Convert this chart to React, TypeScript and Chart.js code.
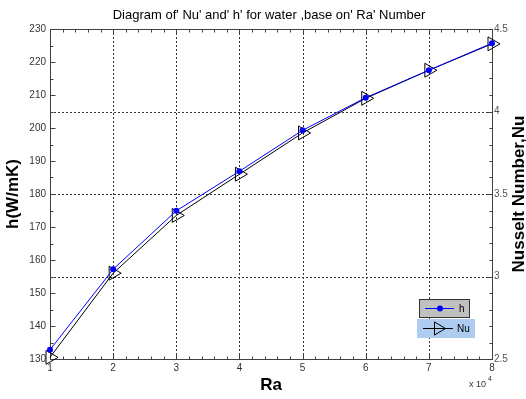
import React, { useEffect, useRef } from "react";
import { Chart, registerables } from "chart.js";

Chart.register(...registerables);

// Ra values (x 10^4)
const raValues = [1, 2, 3, 4, 5, 6, 7, 8];
// heat transfer coefficient h (W/mK), left axis
const hValues = [132.8, 157.2, 174.9, 186.9, 199.3, 209.2, 217.5, 225.7];
// Nusselt number, right axis
const nuValues = [2.51, 3.02, 3.37, 3.62, 3.87, 4.08, 4.25, 4.41];

const xTickValues = [1, 2, 3, 4, 5, 6, 7, 8];
const hTickValues = [130, 140, 150, 160, 170, 180, 190, 200, 210, 220, 230];
const nuTickValues = [2.5, 3, 3.5, 4, 4.5];
const nuGridValues = [3, 3.5, 4];

const chartTitle = "Diagram of' Nu' and' h' for water ,base on' Ra' Number";
const xTitle = "Ra";
const yTitle = "h(W/mK)";
const y1Title = "Nusselt Number,Nu";
const hLabel = "h";
const nuLabel = "Nu";

const FONT = "Arial, 'Liberation Sans', sans-serif";

const decorPlugin = {
  id: "decor",
  beforeDatasetsDraw(chart: any) {
    const { ctx, chartArea: a, scales } = chart;
    const x = scales.x;
    const y = scales.y;
    const y1 = scales.y1;
    ctx.save();
    // dotted grid
    ctx.strokeStyle = "#333";
    ctx.lineWidth = 1;
    ctx.setLineDash([2, 2]);
    for (const v of xTickValues) {
      if (v === x.min || v === x.max) continue;
      const px = Math.round(x.getPixelForValue(v)) + 0.5;
      ctx.beginPath();
      ctx.moveTo(px, a.top);
      ctx.lineTo(px, a.bottom);
      ctx.stroke();
    }
    for (const v of nuGridValues) {
      const py = Math.round(y1.getPixelForValue(v)) + 0.5;
      ctx.beginPath();
      ctx.moveTo(a.left, py);
      ctx.lineTo(a.right, py);
      ctx.stroke();
    }
    ctx.setLineDash([]);
    // frame
    ctx.strokeStyle = "#404040";
    const L = Math.round(a.left) + 0.5;
    const R = Math.round(a.right) + 0.5;
    const T = Math.round(a.top) + 0.5;
    const B = Math.round(a.bottom) + 0.5;
    ctx.strokeRect(L, T, R - L, B - T);
    // ticks
    ctx.beginPath();
    for (let i = 0; i <= 35; i++) {
      const v = x.min + i * 0.2;
      const px = Math.round(x.getPixelForValue(v)) + 0.5;
      const len = i % 5 === 0 ? 5 : 3;
      ctx.moveTo(px, B);
      ctx.lineTo(px, B - len);
      ctx.moveTo(px, T);
      ctx.lineTo(px, T + len);
    }
    for (let i = 0; i <= 20; i++) {
      const v = y.min + i * 5;
      const py = Math.round(y.getPixelForValue(v)) + 0.5;
      const len = i % 2 === 0 ? 5 : 3;
      ctx.moveTo(L, py);
      ctx.lineTo(L + len, py);
    }
    for (let i = 0; i <= 20; i++) {
      const v = y1.min + i * 0.1;
      const py = Math.round(y1.getPixelForValue(v)) + 0.5;
      const len = i % 5 === 0 ? 5 : 3;
      ctx.moveTo(R, py);
      ctx.lineTo(R - len, py);
    }
    ctx.stroke();
    ctx.restore();
  },
  afterDraw(chart: any) {
    const { ctx, chartArea: a } = chart;
    ctx.save();
    ctx.fillStyle = "#000";
    ctx.textAlign = "center";
    ctx.textBaseline = "middle";
    // main title
    ctx.font = `13px ${FONT}`;
    ctx.fillText(chartTitle, (a.left + a.right) / 2 - 2, 15);
    // axis titles
    ctx.font = `bold 17px ${FONT}`;
    ctx.fillText(xTitle, (a.left + a.right) / 2, a.bottom + 26);
    ctx.save();
    ctx.translate(13, (a.top + a.bottom) / 2);
    ctx.rotate(-Math.PI / 2);
    ctx.fillText(yTitle, 0, 0);
    ctx.restore();
    ctx.save();
    ctx.translate(a.right + 27, (a.top + a.bottom) / 2);
    ctx.rotate(-Math.PI / 2);
    ctx.fillText(y1Title, 0, 0);
    ctx.restore();
    // x 10^4
    ctx.fillStyle = "#333";
    ctx.textAlign = "left";
    ctx.font = `9px ${FONT}`;
    ctx.fillText("x 10", a.right - 23, a.bottom + 26);
    ctx.font = `7px ${FONT}`;
    ctx.fillText("4", a.right - 4, a.bottom + 20);

    // legend
    const lx = a.right - 73;
    const ly = a.bottom - 60;
    ctx.fillStyle = "#c0c0c0";
    ctx.fillRect(lx, ly, 51, 19);
    ctx.strokeStyle = "#333";
    ctx.lineWidth = 1;
    ctx.strokeRect(lx + 0.5, ly + 0.5, 50, 18);
    ctx.strokeStyle = "#0000ff";
    ctx.beginPath();
    ctx.moveTo(lx + 6, ly + 9.5);
    ctx.lineTo(lx + 35, ly + 9.5);
    ctx.stroke();
    ctx.fillStyle = "#0000ff";
    ctx.beginPath();
    ctx.arc(lx + 21, ly + 9.5, 3, 0, Math.PI * 2);
    ctx.fill();
    ctx.fillStyle = "#000";
    ctx.font = `10px ${FONT}`;
    ctx.textBaseline = "middle";
    ctx.fillText(hLabel, lx + 40, ly + 10);

    const nx = lx - 2;
    const ny = ly + 20;
    ctx.fillStyle = "#aecbf0";
    ctx.fillRect(nx, ny, 58, 19);
    ctx.strokeStyle = "#000";
    ctx.beginPath();
    ctx.moveTo(nx + 6, ny + 9.5);
    ctx.lineTo(nx + 36, ny + 9.5);
    ctx.stroke();
    ctx.beginPath();
    ctx.moveTo(nx + 17.5, ny + 3);
    ctx.lineTo(nx + 28.5, ny + 9.5);
    ctx.lineTo(nx + 17.5, ny + 16);
    ctx.closePath();
    ctx.stroke();
    ctx.fillStyle = "#000";
    ctx.fillText(nuLabel, nx + 40, ny + 10);
    ctx.restore();
  },
};

export default function App() {
  const canvasRef = useRef<HTMLCanvasElement | null>(null);

  useEffect(() => {
    const canvas = canvasRef.current;
    if (!canvas) return;
    const chart = new Chart(canvas, {
      type: "line",
      data: {
        datasets: [
          {
            label: hLabel,
            data: raValues.map((r, i) => ({ x: r, y: hValues[i] })),
            yAxisID: "y",
            borderColor: "#0000ff",
            borderWidth: 1,
            pointRadius: 3,
            pointBackgroundColor: "#0000ff",
            pointBorderColor: "#0000ff",
            pointBorderWidth: 0,
            tension: 0,
            clip: false as any,
            order: 0,
          },
          {
            label: nuLabel,
            data: raValues.map((r, i) => ({ x: r, y: nuValues[i] })),
            yAxisID: "y1",
            borderColor: "#000000",
            borderWidth: 1,
            pointStyle: "triangle",
            rotation: 90,
            pointRadius: 8,
            pointBackgroundColor: "rgba(255,255,255,0)",
            pointBorderColor: "#000000",
            pointBorderWidth: 1,
            tension: 0,
            clip: false as any,
            order: 1,
          },
        ],
      },
      options: {
        responsive: false,
        animation: false,
        devicePixelRatio: 1,
        layout: { padding: { top: 29, left: 0, right: 0, bottom: 0 } },
        plugins: {
          legend: { display: false },
          title: { display: false },
          tooltip: { enabled: false },
        },
        scales: {
          x: {
            type: "linear",
            min: 1,
            max: 8,
            afterBuildTicks: (s: any) => {
              s.ticks = xTickValues.map((v) => ({ value: v }));
            },
            ticks: {
              font: { size: 10, family: FONT },
              color: "#333",
              padding: 3,
              maxRotation: 0,
              callback: (v: any) => String(v),
            },
            grid: { display: false, drawTicks: false },
            border: { display: false },
            afterFit: (s: any) => {
              s.height = 40;
            },
          },
          y: {
            type: "linear",
            position: "left",
            min: 130,
            max: 230,
            afterBuildTicks: (s: any) => {
              s.ticks = hTickValues.map((v) => ({ value: v }));
            },
            ticks: {
              font: { size: 10, family: FONT },
              color: "#333",
              padding: 4,
              callback: (v: any) => String(v),
            },
            grid: { display: false, drawTicks: false },
            border: { display: false },
            afterFit: (s: any) => {
              s.width = 50;
            },
          },
          y1: {
            type: "linear",
            position: "right",
            min: 2.5,
            max: 4.5,
            afterBuildTicks: (s: any) => {
              s.ticks = nuTickValues.map((v) => ({ value: v }));
            },
            ticks: {
              font: { size: 10, family: FONT },
              color: "#555",
              padding: 2,
              callback: (v: any) => String(v),
            },
            grid: { display: false, drawTicks: false },
            border: { display: false },
            afterFit: (s: any) => {
              s.width = 34;
            },
          },
        },
      },
      plugins: [decorPlugin],
    });
    return () => chart.destroy();
  }, []);

  return (
    <div style={{ position: "absolute", left: 0, top: 0, width: 526, height: 399, background: "#fff" }}>
      <canvas ref={canvasRef} width={526} height={399} style={{ display: "block" }} />
    </div>
  );
}
